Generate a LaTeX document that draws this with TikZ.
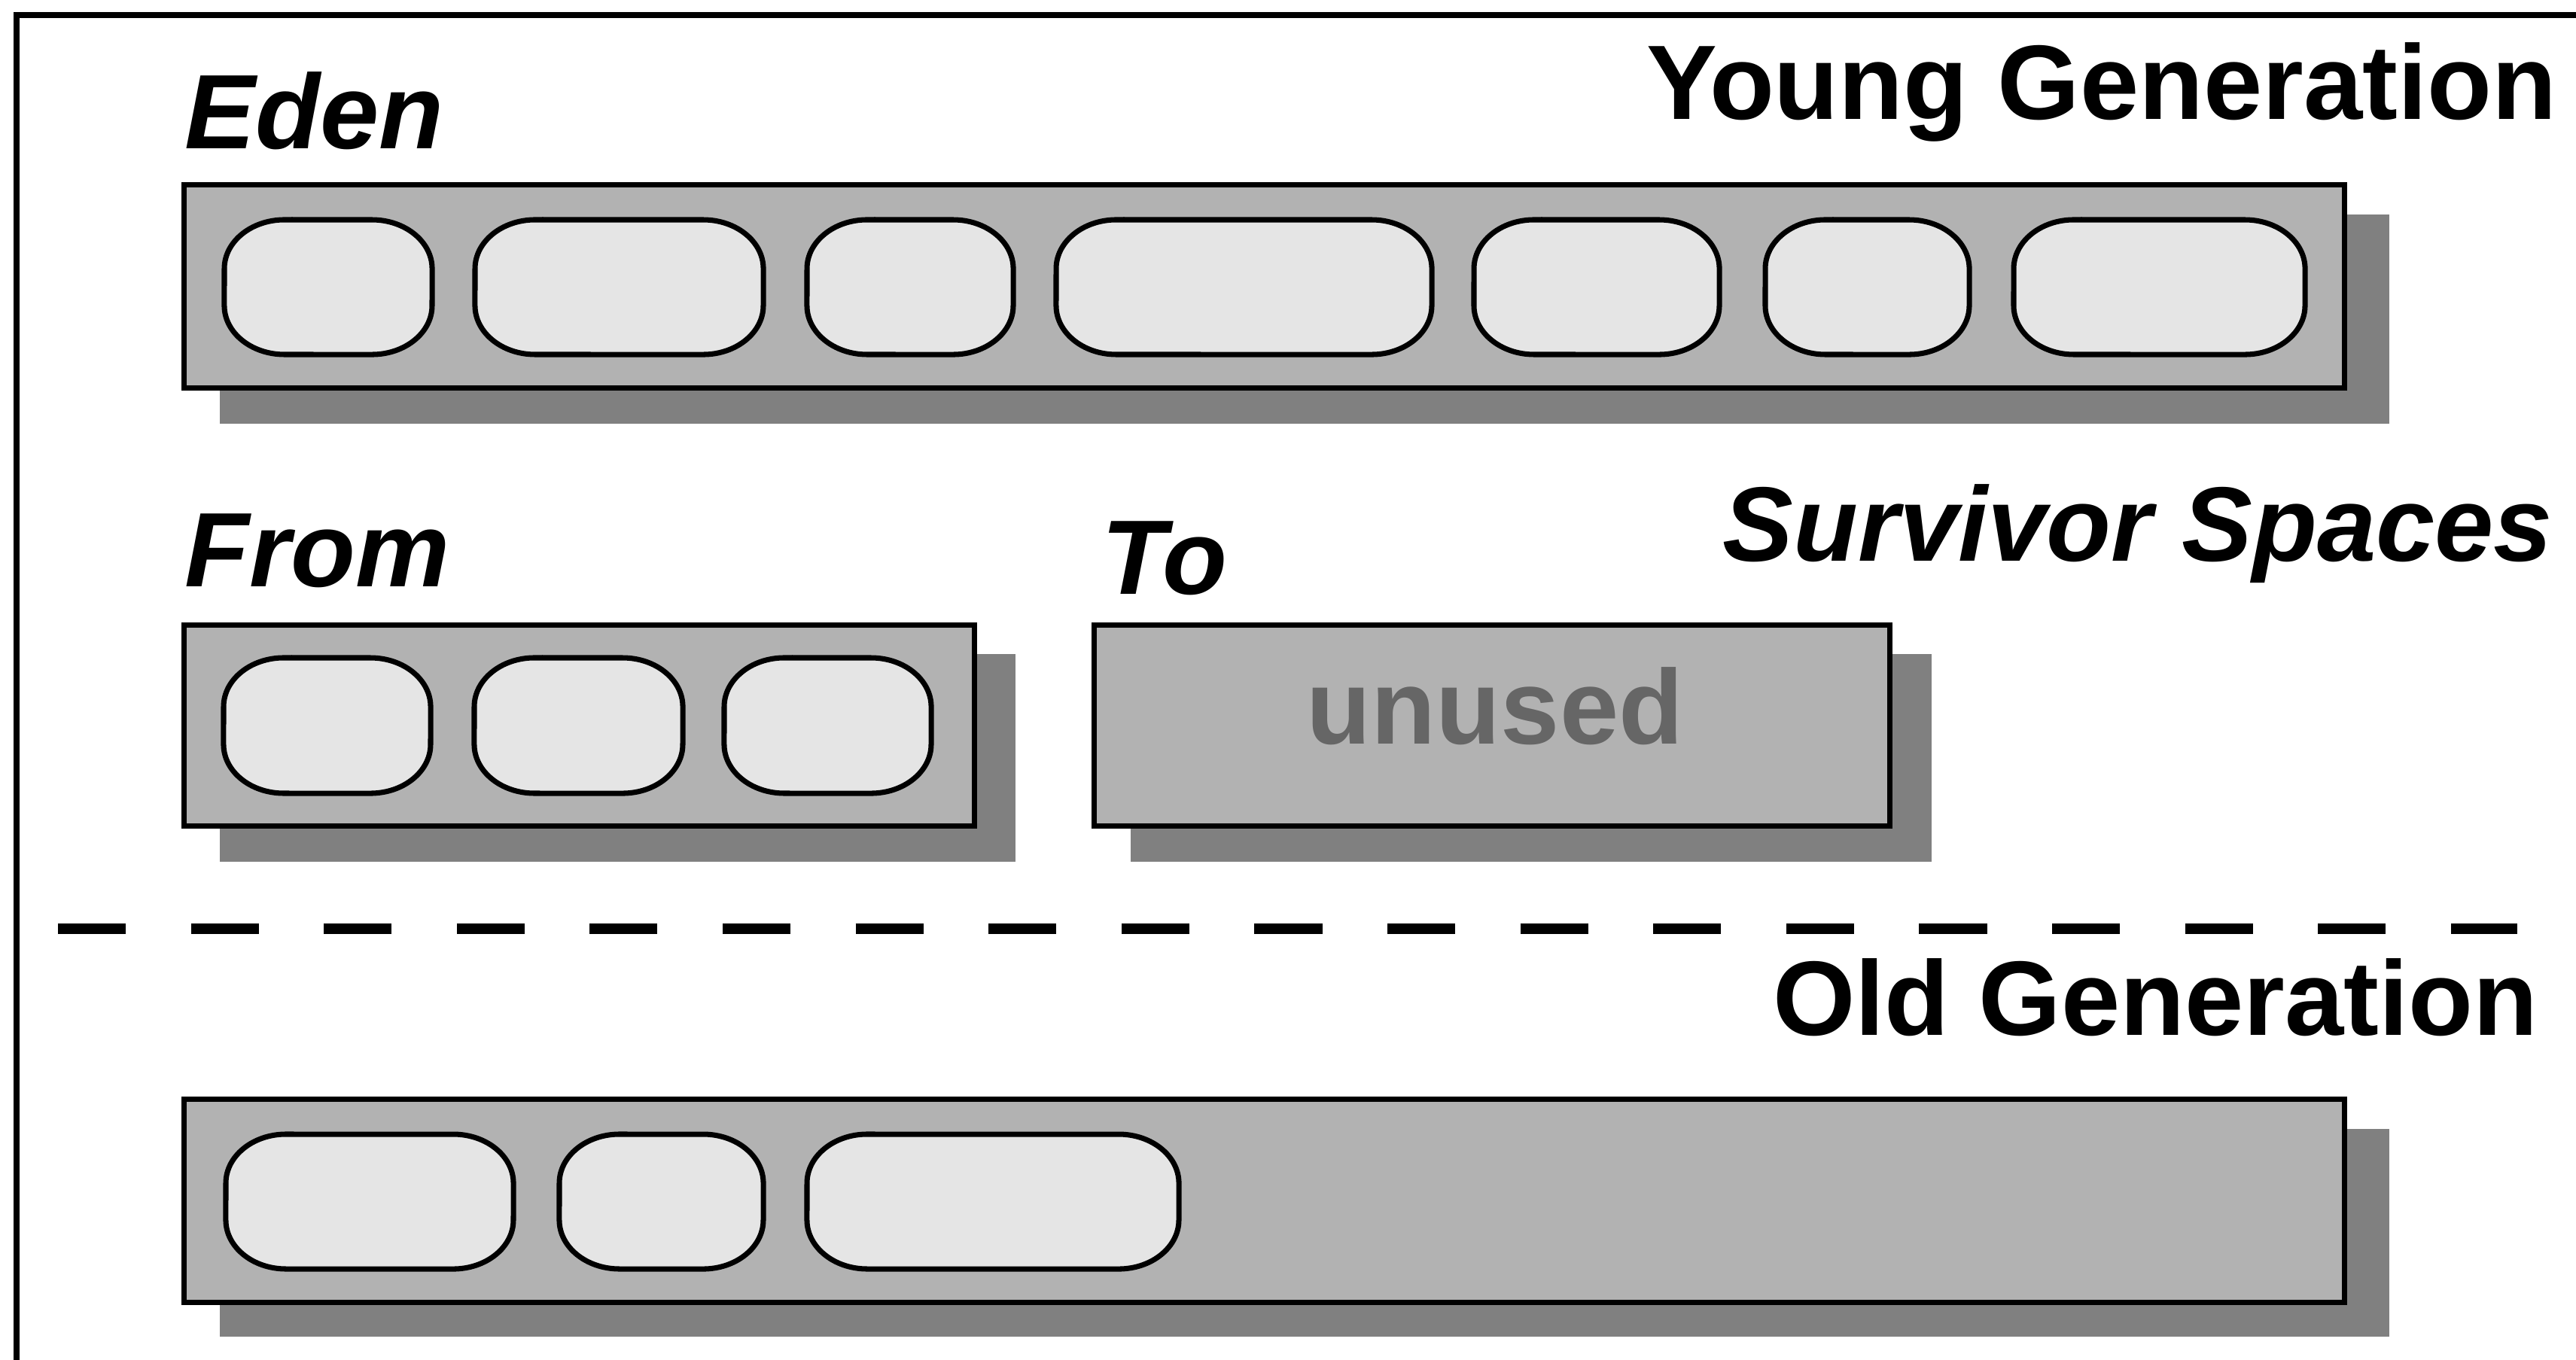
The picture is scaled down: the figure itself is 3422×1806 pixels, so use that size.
\documentclass[tikz,border=0pt]{standalone}
\usepackage{fontspec}
\setmainfont{Liberation Sans}
\definecolor{boxgray}{gray}{0.7}
\definecolor{shadowgray}{gray}{0.5}
\definecolor{blobgray}{gray}{0.9}
\definecolor{unusedgray}{gray}{0.4}
\tikzset{
  region/.style={draw=black, line width=2pt, fill=boxgray, inner sep=0pt, outer sep=0pt, rectangle},
  shadowbox/.style={fill=shadowgray},
  blob/.style={draw=black, line width=2pt, fill=blobgray},
  lbl/.style={inner sep=0pt, font=\fontsize{40}{48}\selectfont\bfseries},
  ilbl/.style={inner sep=0pt, font=\fontsize{40}{48}\selectfont\bfseries\itshape},
  divider/.style={line width=4pt, dash pattern=on 0.9cm off 0.865cm},
  frameline/.style={draw=black, line width=2pt}
}
\newcommand\memblob[4]{%
  \draw[blob] ({#1+80},#3) -- ({#2-80},#3)
    arc[start angle=90,end angle=0,x radius=0.8cm,y radius=0.65cm]
    -- (#2,{#4-65})
    arc[start angle=0,end angle=-90,x radius=0.8cm,y radius=0.65cm]
    -- ({#1+80},#4)
    arc[start angle=270,end angle=180,x radius=0.8cm,y radius=0.65cm]
    -- (#1,{#3+65})
    arc[start angle=180,end angle=90,x radius=0.8cm,y radius=0.65cm]
    -- cycle;}
\begin{document}
\begin{tikzpicture}[x=0.01cm,y=-0.01cm]
\useasboundingbox (0,0) rectangle (3422,1806);
\fill[white] (0,0) rectangle (3422,1806);
% outer frame (cut by the page on the right and bottom)
\draw[frameline] (22,20) rectangle (3500,1900);

% shadows
\fill[shadowbox] (292,285) rectangle (3174,563);
\fill[shadowbox] (292,869) rectangle (1349,1145);
\fill[shadowbox] (1502,869) rectangle (2566,1145);
\fill[shadowbox] (292,1500) rectangle (3174,1776);

% regions
\node[region, minimum width=28.69cm, minimum height=2.69cm] (eden) at (1679.5,380.5) {};
\node[region, minimum width=10.49cm, minimum height=2.66cm] (from) at (769.5,964) {};
\node[region, minimum width=10.56cm, minimum height=2.66cm] (to) at (1982,964) {};
\node[region, minimum width=28.69cm, minimum height=2.69cm] (old) at (1679.5,1595.5) {};

% objects in Eden
\memblob{298}{574}{292}{471}
\memblob{631}{1014}{292}{471}
\memblob{1072}{1346}{292}{471}
\memblob{1403}{1902}{292}{471}
\memblob{1958}{2284}{292}{471}
\memblob{2345}{2616}{292}{471}
\memblob{2675}{3062}{292}{471}
% objects in From
\memblob{297}{572}{874}{1054}
\memblob{630}{907}{874}{1054}
\memblob{962}{1237}{874}{1054}
% objects in Old
\memblob{300}{682}{1507}{1686}
\memblob{743}{1014}{1507}{1686}
\memblob{1072}{1566}{1507}{1686}

% labels
\node[ilbl, anchor=base west] (edenlbl) at (245,197) {Eden};
\node[lbl, anchor=base east] (younglbl) at (3397,159) {Young Generation};
\node[ilbl, anchor=base west] (fromlbl) at (245,779) {From};
\node[ilbl, anchor=base west] (tolbl) at (1463,789) {To};
\node[ilbl, anchor=base east] (survlbl) at (3392,745) {Survivor Spaces};
\node[lbl, anchor=base east] (oldlbl) at (3372,1375) {Old Generation};
\node[lbl, text=unusedgray, anchor=base] (unused) at (1986,988) {unused};

% divider
\coordinate (dl) at (77,1234);
\coordinate (dr) at (3344,1234);
\draw[divider] (dl) -- (dr);
\end{tikzpicture}
\end{document}
